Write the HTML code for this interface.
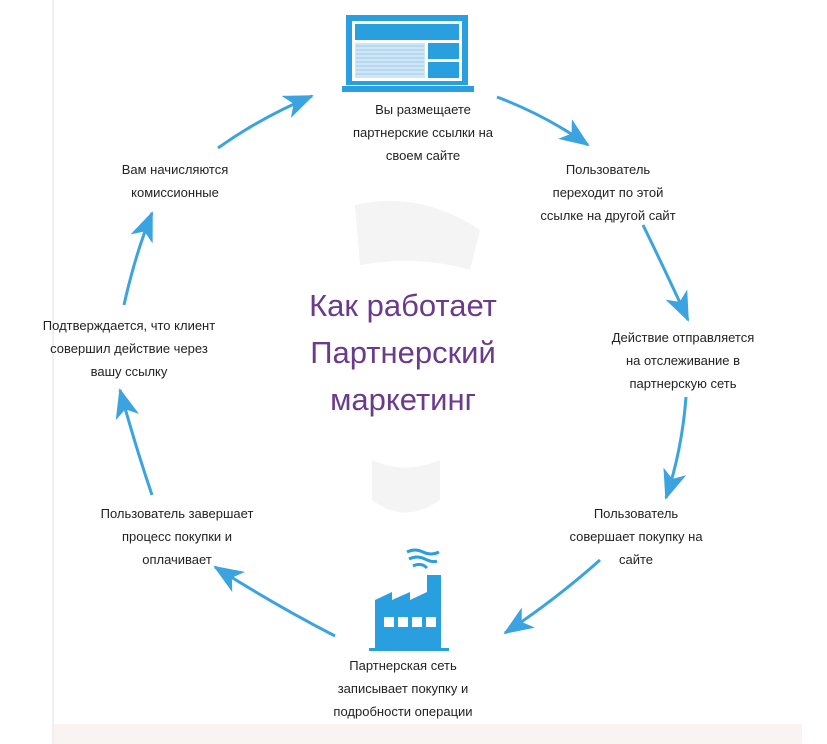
<!DOCTYPE html>
<html><head><meta charset="utf-8"><style>
body{margin:0;width:827px;height:744px;background:#fff;position:relative;overflow:hidden;font-family:"Liberation Sans","DejaVu Sans",sans-serif}
.t{position:absolute;font-size:13px;line-height:23px;color:#222;text-align:center;white-space:nowrap;transform:translateX(-50%)}
.h{position:absolute;left:403px;top:282px;transform:translateX(-50%);text-align:center;color:#6a3a8c;font-size:31px;line-height:47px;white-space:nowrap}
</style></head><body>
<div style="position:absolute;left:52px;top:0;width:2px;height:744px;background:#f0eeee"></div>
<div style="position:absolute;left:54px;top:724px;width:748px;height:20px;background:#f9f4f1"></div>
<svg width="827" height="744" style="position:absolute;left:0;top:0">
<defs><marker id="a" viewBox="0 0 30 24" refX="28" refY="12" markerWidth="30" markerHeight="24" markerUnits="userSpaceOnUse" orient="auto"><path d="M0 0 L30 12 L0 24 L8 12 Z" fill="#3aa3e0"/></marker></defs>
<path d="M355 205 Q420 190 480 230 L470 270 Q420 255 360 265 Z" fill="#f4f4f4"/>
<path d="M372 460 Q405 475 440 460 L440 500 Q405 525 372 500 Z" fill="#f4f4f4"/>
<!-- laptop -->
<rect x="346" y="15" width="122" height="70" fill="#2a9fe0"/>
<rect x="352" y="21" width="110" height="60" fill="#fff"/>
<rect x="355" y="24" width="104" height="16" fill="#2a9fe0"/>
<g fill="#cfe6f5"><rect x="355" y="43" width="70" height="35"/></g>
<g stroke="#9ccbea" stroke-width="1"><line x1="356" y1="46" x2="424" y2="46"/><line x1="356" y1="50" x2="424" y2="50"/><line x1="356" y1="54" x2="424" y2="54"/><line x1="356" y1="58" x2="424" y2="58"/><line x1="356" y1="62" x2="424" y2="62"/><line x1="356" y1="66" x2="424" y2="66"/><line x1="356" y1="70" x2="424" y2="70"/><line x1="356" y1="74" x2="424" y2="74"/></g>
<rect x="428" y="43" width="31" height="16" fill="#2a9fe0"/>
<rect x="428" y="62" width="31" height="16" fill="#2a9fe0"/>
<rect x="342" y="86" width="132" height="6" fill="#2a9fe0"/>
<!-- factory -->
<g fill="#2a9fe0">
<path d="M375 650 L375 600 L392 592 L392 600 L410 592 L410 600 L427 592 L427 575 L441 575 L441 650 Z"/>
<rect x="369" y="648" width="80" height="3"/>
</g>
<g fill="#fff"><rect x="384" y="617" width="10" height="10"/><rect x="398" y="617" width="10" height="10"/><rect x="412" y="617" width="10" height="10"/><rect x="426" y="617" width="10" height="10"/></g>
<g fill="none" stroke="#2a9fe0" stroke-width="3"><path d="M407 552 q8 -4 16 0 t16 0"/><path d="M409 559 q8 -4 16 0 t12 2"/><path d="M413 566 q8 -4 14 2"/></g>
<g fill="none" stroke="#3aa3e0" stroke-width="3" marker-end="url(#a)">
<path d="M218 148 Q260 118 312 96"/>
<path d="M497 97 Q545 115 588 145"/>
<path d="M643 225 Q665 270 688 320"/>
<path d="M686 397 Q682 450 666 498"/>
<path d="M600 560 Q555 600 505 633"/>
<path d="M335 636 Q275 605 215 567"/>
<path d="M152 495 Q135 445 120 390"/>
<path d="M124 305 Q135 255 152 213"/>
</g>
</svg>
<div class="t" style="left:423px;top:98px">Вы размещаете<br>партнерские ссылки на<br>своем сайте</div>
<div class="t" style="left:608px;top:158px">Пользователь<br>переходит по этой<br>ссылке на другой сайт</div>
<div class="t" style="left:683px;top:326px">Действие отправляется<br>на отслеживание в<br>партнерскую сеть</div>
<div class="t" style="left:636px;top:502px">Пользователь<br>совершает покупку на<br>сайте</div>
<div class="t" style="left:403px;top:654px">Партнерская сеть<br>записывает покупку и<br>подробности операции</div>
<div class="t" style="left:177px;top:502px">Пользователь завершает<br>процесс покупки и<br>оплачивает</div>
<div class="t" style="left:129px;top:314px">Подтверждается, что клиент<br>совершил действие через<br>вашу ссылку</div>
<div class="t" style="left:175px;top:158px">Вам начисляются<br>комиссионные</div>
<div class="h">Как работает<br>Партнерский<br>маркетинг</div>
</body></html>
